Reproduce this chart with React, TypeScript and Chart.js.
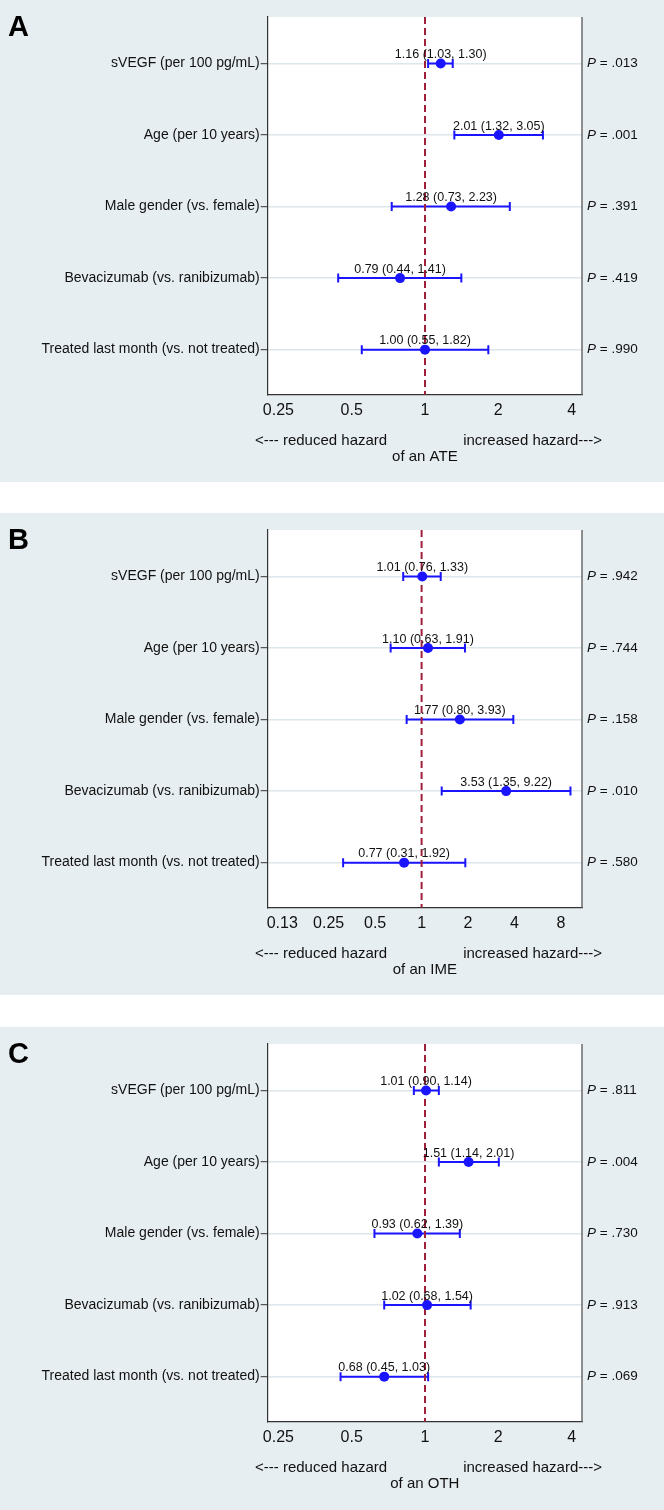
import React, { useEffect, useRef } from "react";
import { Chart, registerables } from "chart.js";

Chart.register(...registerables);

// ---------- data ----------
const CATEGORIES = [
  "sVEGF (per 100 pg/mL)",
  "Age (per 10 years)",
  "Male gender (vs. female)",
  "Bevacizumab (vs. ranibizumab)",
  "Treated last month (vs. not treated)",
];

const HR_A = [1.16, 2.01, 1.28, 0.79, 1.0];
const LO_A = [1.03, 1.32, 0.73, 0.44, 0.55];
const HI_A = [1.3, 3.05, 2.23, 1.41, 1.82];
const P_A = [".013", ".001", ".391", ".419", ".990"];

const HR_B = [1.01, 1.1, 1.77, 3.53, 0.77];
const LO_B = [0.76, 0.63, 0.8, 1.35, 0.31];
const HI_B = [1.33, 1.91, 3.93, 9.22, 1.92];
const P_B = [".942", ".744", ".158", ".010", ".580"];

const HR_C = [1.01, 1.51, 0.93, 1.02, 0.68];
const LO_C = [0.9, 1.14, 0.62, 0.68, 0.45];
const HI_C = [1.14, 2.01, 1.39, 1.54, 1.03];
const P_C = [".811", ".004", ".730", ".913", ".069"];

const TICKS_AC = [0.25, 0.5, 1, 2, 4];
const TICK_LABELS_AC = ["0.25", "0.5", "1", "2", "4"];
const TICKS_B = [0.125, 0.25, 0.5, 1, 2, 4, 8];
const TICK_LABELS_B = ["0.13", "0.25", "0.5", "1", "2", "4", "8"];

const OUTCOMES = ["ATE", "IME", "OTH"];
const LETTERS = ["A", "B", "C"];
const REF_VALUE = 1;
const LEFT_NOTE = "<--- reduced hazard";
const RIGHT_NOTE = "increased hazard--->";

// ---------- style ----------
const FONT = "'Liberation Sans', Arial, Helvetica, sans-serif";
const BG = "#e7eef1";
const BLUE = "#1a14ff";
const REF_COLOR = "#a0203c";
const TEXT = "#111111";
const Y_MIN = 0.35;
const Y_MAX = 5.63;

type PanelProps = {
  hr: number[];
  lo: number[];
  hi: number[];
  p: string[];
  letter: string;
  outcome: string;
  ticks: number[];
  tickLabels: string[];
  xmin: number;
  xmax: number;
  height: number;
};

function Panel(props: PanelProps) {
  const ref = useRef<HTMLCanvasElement | null>(null);

  useEffect(() => {
    const canvas = ref.current;
    if (!canvas) return;
    const { hr, lo, hi, p, letter, outcome, ticks, tickLabels, xmin, xmax, height } = props;

    const plugin = {
      id: "forestDecor",
      beforeDraw(chart: any) {
        const { ctx, width, chartArea: a } = chart;
        ctx.save();
        ctx.fillStyle = BG;
        ctx.fillRect(0, 0, width, chart.height);
        ctx.fillStyle = "#ffffff";
        ctx.fillRect(a.left, a.top, a.right - a.left, a.bottom - a.top);
        ctx.restore();
      },
      beforeDatasetsDraw(chart: any) {
        const { ctx } = chart;
        const xs = chart.scales.x;
        const ys = chart.scales.y;
        ctx.save();
        ctx.strokeStyle = BLUE;
        ctx.lineWidth = 2;
        for (let i = 0; i < hr.length; i++) {
          const y = ys.getPixelForValue(i + 1);
          const x1 = xs.getPixelForValue(lo[i]);
          const x2 = xs.getPixelForValue(hi[i]);
          ctx.beginPath();
          ctx.moveTo(x1, y);
          ctx.lineTo(x2, y);
          ctx.moveTo(x1, y - 4.5);
          ctx.lineTo(x1, y + 4.5);
          ctx.moveTo(x2, y - 4.5);
          ctx.lineTo(x2, y + 4.5);
          ctx.stroke();
        }
        ctx.restore();
      },
      afterDraw(chart: any) {
        const { ctx, chartArea: a } = chart;
        const xs = chart.scales.x;
        const ys = chart.scales.y;
        ctx.save();
        // right border
        ctx.strokeStyle = "#6a6a6a";
        ctx.lineWidth = 1.5;
        ctx.beginPath();
        ctx.moveTo(a.right, a.top);
        ctx.lineTo(a.right, a.bottom);
        ctx.stroke();

        ctx.fillStyle = TEXT;
        // estimate labels
        ctx.font = `12.5px ${FONT}`;
        ctx.textAlign = "center";
        ctx.textBaseline = "alphabetic";
        for (let i = 0; i < hr.length; i++) {
          const y = ys.getPixelForValue(i + 1);
          const x = xs.getPixelForValue(hr[i]);
          const s = `${hr[i].toFixed(2)} (${lo[i].toFixed(2)}, ${hi[i].toFixed(2)})`;
          ctx.fillText(s, x, y - 5.5);
        }
        // p-values
        ctx.textAlign = "left";
        ctx.textBaseline = "middle";
        for (let i = 0; i < p.length; i++) {
          const y = ys.getPixelForValue(i + 1);
          let x = a.right + 5;
          ctx.font = `italic 13.5px ${FONT}`;
          ctx.fillText("P", x, y);
          x += ctx.measureText("P").width;
          ctx.font = `13.5px ${FONT}`;
          ctx.fillText(` = ${p[i]}`, x, y);
        }
        // axis notes
        ctx.font = `15px ${FONT}`;
        ctx.textBaseline = "middle";
        ctx.textAlign = "left";
        ctx.fillText(LEFT_NOTE, a.left - 12.7, a.bottom + 46.3);
        ctx.textAlign = "right";
        ctx.fillText(RIGHT_NOTE, a.right + 20, a.bottom + 46.3);
        ctx.textAlign = "center";
        ctx.fillText(`of an ${outcome}`, (a.left + a.right) / 2, a.bottom + 62.5);
        // panel letter
        ctx.font = `bold 29px ${FONT}`;
        ctx.textAlign = "left";
        ctx.textBaseline = "alphabetic";
        ctx.fillStyle = "#000";
        ctx.fillText(letter, 8, 36);
        ctx.restore();
      },
    };

    const chart = new Chart(canvas, {
      type: "scatter",
      data: {
        datasets: [
          {
            type: "scatter",
            data: hr.map((v, i) => ({ x: v, y: i + 1 })),
            pointRadius: 5,
            pointBackgroundColor: BLUE,
            pointBorderColor: BLUE,
            pointBorderWidth: 0,
            order: 1,
          } as any,
          {
            type: "line",
            data: [
              { x: REF_VALUE, y: Y_MIN },
              { x: REF_VALUE, y: Y_MAX },
            ],
            borderColor: REF_COLOR,
            borderWidth: 2,
            borderDash: [7, 4],
            pointRadius: 0,
            showLine: true,
            order: 2,
          } as any,
        ],
      },
      options: {
        responsive: false,
        animation: false,
        events: [],
        layout: { padding: { left: 0, right: 82, top: 17, bottom: 0 } },
        plugins: { legend: { display: false }, tooltip: { enabled: false } },
        scales: {
          x: {
            type: "logarithmic",
            position: "bottom",
            min: xmin,
            max: xmax,
            bounds: "data",
            afterBuildTicks: (scale: any) => {
              scale.ticks = ticks.map((v) => ({ value: v }));
            },
            afterFit: (scale: any) => {
              scale.height = height - 394.7;
            },
            grid: { display: false },
            border: { display: true, color: "#333333", width: 1.2 },
            ticks: {
              autoSkip: false,
              maxRotation: 0,
              padding: -2,
              color: TEXT,
              font: { family: FONT, size: 16 },
              callback: (value: any) => {
                const idx = ticks.indexOf(Number(value));
                return idx >= 0 ? tickLabels[idx] : "";
              },
            },
          },
          y: {
            type: "linear",
            reverse: true,
            min: Y_MIN,
            max: Y_MAX,
            bounds: "data",
            afterBuildTicks: (scale: any) => {
              scale.ticks = CATEGORIES.map((_, i) => ({ value: i + 1 }));
            },
            afterFit: (scale: any) => {
              scale.width = 267.7;
            },
            grid: {
              display: true,
              color: "#dde6ea",
              lineWidth: 1.4,
              drawTicks: true,
              tickLength: 7,
              tickColor: "#333333",
              tickWidth: 1,
            },
            border: { display: true, color: "#333333", width: 1.2 },
            ticks: {
              autoSkip: false,
              padding: 1,
              color: TEXT,
              font: { family: FONT, size: 14 },
              callback: (value: any) => {
                const idx = Math.round(Number(value)) - 1;
                return CATEGORIES[idx] ?? "";
              },
            },
          },
        },
      } as any,
      plugins: [plugin],
    });

    return () => chart.destroy();
  }, []);

  return (
    <canvas
      ref={ref}
      width={664}
      height={props.height}
      style={{ display: "block", width: 664, height: props.height }}
    />
  );
}

export default function App() {
  useEffect(() => {
    document.body.style.margin = "0";
    document.body.style.background = "#ffffff";
  }, []);

  const a2 = (e: number) => Math.pow(2, e);

  return (
    <div style={{ width: 664, background: "#ffffff" }}>
      <Panel
        hr={HR_A}
        lo={LO_A}
        hi={HI_A}
        p={P_A}
        letter={LETTERS[0]}
        outcome={OUTCOMES[0]}
        ticks={TICKS_AC}
        tickLabels={TICK_LABELS_AC}
        xmin={a2(-2.146)}
        xmax={a2(2.142)}
        height={482}
      />
      <div style={{ height: 31 }} />
      <Panel
        hr={HR_B}
        lo={LO_B}
        hi={HI_B}
        p={P_B}
        letter={LETTERS[1]}
        outcome={OUTCOMES[1]}
        ticks={TICKS_B}
        tickLabels={TICK_LABELS_B}
        xmin={a2(-3.313)}
        xmax={a2(3.453)}
        height={482}
      />
      <div style={{ height: 32 }} />
      <Panel
        hr={HR_C}
        lo={LO_C}
        hi={HI_C}
        p={P_C}
        letter={LETTERS[2]}
        outcome={OUTCOMES[2]}
        ticks={TICKS_AC}
        tickLabels={TICK_LABELS_AC}
        xmin={a2(-2.146)}
        xmax={a2(2.142)}
        height={483}
      />
    </div>
  );
}
